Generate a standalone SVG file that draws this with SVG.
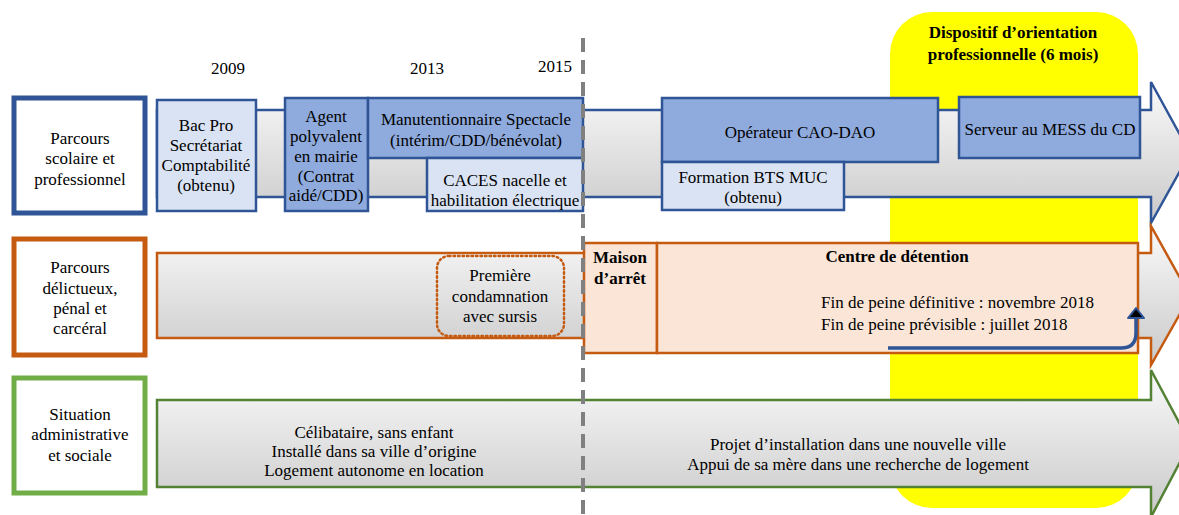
<svg xmlns="http://www.w3.org/2000/svg" width="1179" height="515" viewBox="0 0 1179 515">
<defs>
<linearGradient id="gr" x1="0" y1="0" x2="0" y2="1">
<stop offset="0" stop-color="#FAFAFA"/>
<stop offset="1" stop-color="#C9C9C9"/>
</linearGradient>
<style>
text{font-family:"Liberation Serif","Times New Roman",serif;font-size:17px;fill:#000;text-anchor:middle}
.b{font-weight:bold}
.l{text-anchor:start}
.lab{fill:#fff;stroke-width:5}
.arr{fill:url(#gr);stroke-width:2.5;stroke-linejoin:miter}
.lb{fill:#DAE3F3;stroke:#2F5597;stroke-width:2.5}
.mb{fill:#8FAADC;stroke:#2F5597;stroke-width:2.5}
.or{fill:#FBE5D6;stroke:#C55A11;stroke-width:2.5}
</style>
</defs>
<rect width="1179" height="515" fill="#fff"/>

<g id="dispositif">
<rect x="890" y="12" width="248" height="496" rx="42" fill="#FFFF00"/>
<text class="b" x="1013" y="38">Dispositif d’orientation</text>
<text class="b" x="1013" y="60">professionnelle (6 mois)</text>
</g>

<g id="years">
<text x="228" y="74">2009</text>
<text x="427" y="74">2013</text>
<text x="555" y="72">2015</text>
</g>

<g id="lane-scolaire">
<path class="arr" stroke="#2F5597" d="M157,110 H1151 V82 L1190,153 L1151,223 V197 H157 Z"/>
</g>
<g id="lane-penal">
<path class="arr" stroke="#C55A11" d="M157,253 H1151 V226 L1190,296 L1151,365 V338 H157 Z"/>
</g>
<g id="lane-social">
<path class="arr" stroke="#548235" d="M157,400 H1151 V370 L1190,443 L1151,517 V487 H157 Z"/>
</g>

<g id="label-scolaire">
<rect class="lab" stroke="#2F5597" x="14" y="98" width="131" height="115"/>
<text x="80" y="144">Parcours</text>
<text x="80" y="164">scolaire et</text>
<text x="80" y="185">professionnel</text>
</g>
<g id="label-penal">
<rect class="lab" stroke="#C55A11" x="14" y="239" width="131" height="116"/>
<text x="80" y="273">Parcours</text>
<text x="80" y="294">délictueux,</text>
<text x="80" y="314">pénal et</text>
<text x="80" y="334">carcéral</text>
</g>
<g id="label-social">
<rect class="lab" stroke="#70AD47" x="14" y="378" width="131" height="115"/>
<text x="80" y="420">Situation</text>
<text x="80" y="440">administrative</text>
<text x="80" y="461">et sociale</text>
</g>

<g id="bacpro">
<rect class="lb" x="157" y="100" width="99" height="111"/>
<text x="206" y="131">Bac Pro</text>
<text x="206" y="151">Secrétariat</text>
<text x="206" y="171">Comptabilité</text>
<text x="206" y="191">(obtenu)</text>
</g>
<g id="agent">
<rect class="mb" x="285" y="98" width="83" height="113"/>
<text x="326" y="122">Agent</text>
<text x="326" y="142">polyvalent</text>
<text x="326" y="162">en mairie</text>
<text x="326" y="182">(Contrat</text>
<text x="326" y="201">aidé/CDD)</text>
</g>
<g id="manutentionnaire">
<rect class="mb" x="368" y="98" width="215" height="60"/>
<text x="476" y="125">Manutentionnaire Spectacle</text>
<text x="476" y="146">(intérim/CDD/bénévolat)</text>
</g>
<g id="caces">
<rect class="lb" x="427" y="158" width="156" height="53"/>
<text x="505" y="186">CACES nacelle et</text>
<text x="505" y="206">habilitation électrique</text>
</g>
<g id="operateur">
<rect class="mb" x="662" y="98" width="276" height="64"/>
<text x="800" y="138">Opérateur CAO-DAO</text>
</g>
<g id="bts">
<rect class="lb" x="662" y="162" width="182" height="48"/>
<text x="753" y="183">Formation BTS MUC</text>
<text x="753" y="203">(obtenu)</text>
</g>
<g id="serveur">
<rect class="mb" x="959" y="97" width="181" height="61"/>
<text x="1050" y="135">Serveur au MESS du CD</text>
</g>

<g id="condamnation">
<rect x="437" y="256" width="127" height="80" rx="12" fill="none" stroke="#C55A11" stroke-width="2.5" stroke-dasharray="1.5 3" stroke-linecap="round"/>
<text x="500" y="281">Première</text>
<text x="500" y="302">condamnation</text>
<text x="500" y="322">avec sursis</text>
</g>
<g id="maison-arret">
<rect class="or" x="584" y="243" width="73" height="110"/>
<text class="b" x="620" y="263">Maison</text>
<text class="b" x="620" y="284">d’arrêt</text>
</g>
<g id="centre-detention">
<rect class="or" x="657" y="243" width="481" height="110"/>
<text class="b" x="897" y="262">Centre de détention</text>
<text class="l" x="821" y="308">Fin de peine définitive : novembre 2018</text>
<text class="l" x="821" y="330">Fin de peine prévisible : juillet 2018</text>
</g>

<g id="situation-avant">
<text x="374" y="438">Célibataire, sans enfant</text>
<text x="374" y="457">Installé dans sa ville d’origine</text>
<text x="374" y="476">Logement autonome en location</text>
</g>
<g id="situation-apres">
<text x="858" y="450">Projet d’installation dans une nouvelle ville</text>
<text x="858" y="470">Appui de sa mère dans une recherche de logement</text>
</g>

<g id="connectors">
<path d="M888,348 H1121 Q1136,348 1136,333 V318" fill="none" stroke="#2F5597" stroke-width="3.5"/>
<polygon points="1136,308 1144,318 1128,318" fill="#000" stroke="#2F5597" stroke-width="2" stroke-linejoin="round"/>
<line x1="583" y1="38" x2="583" y2="515" stroke="#808080" stroke-width="4" stroke-dasharray="14 8"/>
</g>
</svg>
